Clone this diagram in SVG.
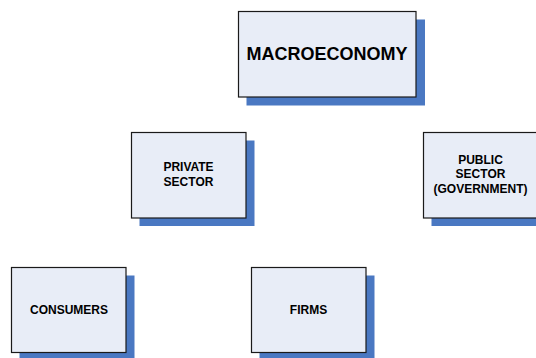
<svg xmlns="http://www.w3.org/2000/svg" width="536" height="358" viewBox="0 0 536 358">
<style>
.shadow{fill:#4A78C2}
.box{fill:#E8EDF7;stroke:#1a1a1a;stroke-width:1.2}
.t{font-family:"Liberation Sans",Arial,sans-serif;font-weight:bold;fill:#000;text-anchor:middle}
.s{font-size:12px}
.l{font-size:18px}
</style>
<rect width="536" height="358" fill="#fff"/>
<g id="macroeconomy">
<rect class="shadow" x="246.5" y="19.5" width="178.5" height="86"/>
<rect class="box" x="238.5" y="11.5" width="177.5" height="85.5"/>
<text class="t l" x="327" y="60">MACROECONOMY</text>
</g>
<g id="private-sector">
<rect class="shadow" x="139.5" y="140.5" width="115" height="85.5"/>
<rect class="box" x="131.5" y="132.5" width="114.5" height="85.5"/>
<text class="t s" x="188.5" y="170.5">PRIVATE</text>
<text class="t s" x="188.5" y="186">SECTOR</text>
</g>
<g id="public-sector">
<rect class="shadow" x="431.5" y="140.5" width="115" height="85.5"/>
<rect class="box" x="423.5" y="132.5" width="114.5" height="85.5"/>
<text class="t s" x="480.5" y="164">PUBLIC</text>
<text class="t s" x="480.5" y="178.3">SECTOR</text>
<text class="t s" x="480.5" y="192.5">(GOVERNMENT)</text>
</g>
<g id="consumers">
<rect class="shadow" x="19.5" y="275.5" width="115" height="85.5"/>
<rect class="box" x="11.5" y="267.5" width="114.5" height="85"/>
<text class="t s" x="69" y="313.5">CONSUMERS</text>
</g>
<g id="firms">
<rect class="shadow" x="259.5" y="275.5" width="115" height="85.5"/>
<rect class="box" x="251.5" y="267.5" width="114.5" height="85"/>
<text class="t s" x="308.5" y="313.5">FIRMS</text>
</g>
<g id="connectors"></g>
</svg>
